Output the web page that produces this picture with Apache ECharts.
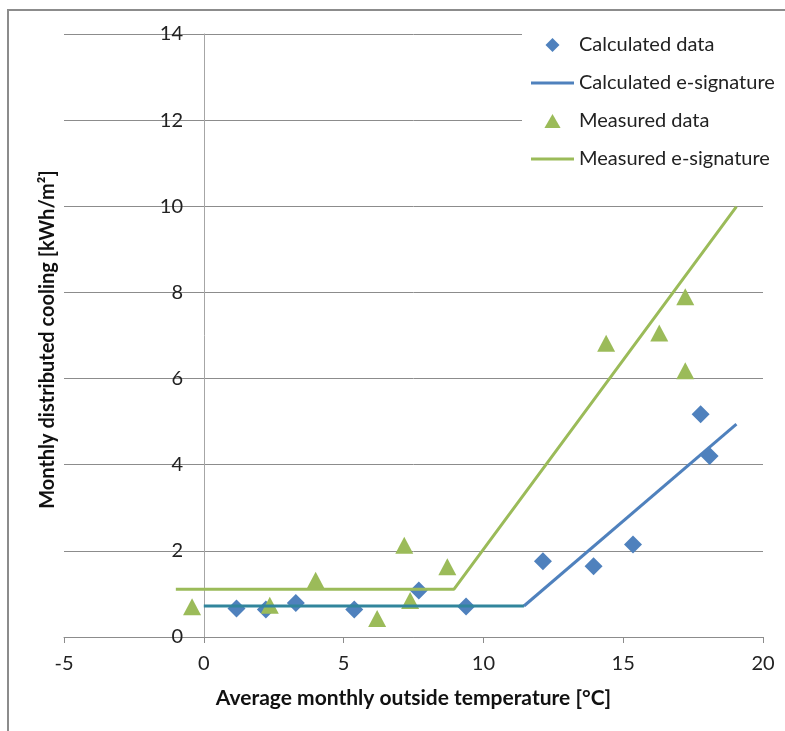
<!DOCTYPE html>
<html>
<head>
<meta charset="utf-8">
<script src="https://cdn.jsdelivr.net/npm/echarts@6/dist/echarts.min.js"></script>
<style>
  html, body { margin: 0; padding: 0; background: #fff; }
  #chart { position: absolute; left: 0; top: 0; width: 785px; height: 731px; }
  #frame { position: absolute; left: 7px; top: 9px; width: 800px; height: 760px;
           border-left: 2px solid #8c8c8c; border-top: 2px solid #8c8c8c; pointer-events: none; }
</style>
</head>
<body>
<div id="chart"></div>
<div id="frame"></div>
<script>
// average monthly outside temperature [°C] / monthly distributed cooling [kWh/m²]
const calcTemp = [1.17, 2.22, 3.29, 5.38, 7.69, 9.38, 12.13, 13.94, 15.35, 17.77, 18.09]
const calcCooling = [0.66, 0.64, 0.79, 0.64, 1.08, 0.71, 1.76, 1.64, 2.15, 5.17, 4.20]
const measTemp = [-0.42, 2.36, 4.0, 6.2, 7.17, 7.38, 8.71, 14.39, 16.29, 17.22, 17.22]
const measCooling = [0.70, 0.74, 1.32, 0.43, 2.13, 0.85, 1.63, 6.82, 7.06, 7.90, 6.18]

// e-signature break points
const calcSigFlatX = [0, 11.45]
const calcSigFlatY = [0.72, 0.72]
const calcSigSlopeX = [11.45, 19.05]
const calcSigSlopeY = [0.72, 4.94]
const measSigX = [-1, 8.95, 19.05]
const measSigY = [1.11, 1.11, 9.99]

// axis ticks
const xTicks = [-5, 0, 5, 10, 15, 20]
const yTicks = [0, 2, 4, 6, 8, 10, 12, 14]

const BLUE = '#4f81bd'
const TEAL = '#31859c'
const GREEN = '#9bbb59'
const FONT = 'Lato'

// legend icons (path icons keep their aspect)
const ICON_LINE = 'path://M0,0H43V3H0Z'
const ICON_DIAMOND = 'path://M7,0L14,7L7,14L0,7Z'
const ICON_TRIANGLE = 'path://M0,13L7.5,0L15,13Z'

const pairs = (xs, ys) => xs.map((x, i) => [x, ys[i]])

const chart = echarts.init(document.getElementById('chart'))

const option = {
  animation: false,
  textStyle: { fontFamily: FONT },
  grid: {
    left: 64,
    right: 22,
    top: 34,
    bottom: 94,
    containLabel: false,
    outerBoundsMode: 'none'
  },
  legend: {
    orient: 'vertical',
    left: 522,
    top: 29,
    padding: [6, 12, 6, 9],
    backgroundColor: '#fff',
    itemWidth: 43,
    itemHeight: 14,
    itemGap: 18,
    symbolKeepAspect: true,
    textStyle: { fontFamily: FONT, fontSize: 20, color: '#222' },
    data: [
      { name: 'Calculated data', icon: ICON_DIAMOND },
      { name: 'Calculated e-signature', icon: ICON_LINE },
      { name: 'Measured data', icon: ICON_TRIANGLE },
      { name: 'Measured e-signature', icon: ICON_LINE }
    ]
  },
  xAxis: {
    type: 'value',
    min: xTicks[0],
    max: xTicks[xTicks.length - 1],
    interval: 5,
    axisLine: { onZero: false, lineStyle: { color: '#8c8c8c', width: 1 } },
    axisTick: { show: true, length: 6, lineStyle: { color: '#8c8c8c' } },
    axisLabel: { fontSize: 20, color: '#222', margin: 17 },
    splitLine: { show: false },
    name: 'Average monthly outside temperature [°C]',
    nameLocation: 'middle',
    nameGap: 51,
    nameTextStyle: { fontFamily: FONT, fontSize: 21, fontWeight: 'bold', color: '#111' }
  },
  yAxis: {
    type: 'value',
    min: yTicks[0],
    max: yTicks[yTicks.length - 1],
    interval: 2,
    axisLine: { show: true, onZero: true, lineStyle: { color: '#a6a6a6', width: 1 } },
    axisTick: { show: false },
    // labels sit beside the axis line at x = 0, not at the grid edge
    axisLabel: { fontSize: 20, color: '#222', margin: -119 },
    splitLine: { show: true, lineStyle: { color: '#8c8c8c', width: 1 } },
    name: 'Monthly distributed cooling [kWh/m²]',
    nameLocation: 'middle',
    nameGap: 6,
    nameTextStyle: { fontFamily: FONT, fontSize: 20, fontWeight: 'bold', color: '#111', padding: [0, 8, 0, 0] }
  },
  series: [
    {
      name: 'Measured e-signature',
      type: 'line',
      data: pairs(measSigX, measSigY),
      symbol: 'none',
      lineStyle: { color: GREEN, width: 3 },
      itemStyle: { color: GREEN }
    },
    {
      name: 'Calculated e-signature',
      type: 'line',
      data: pairs(calcSigSlopeX, calcSigSlopeY),
      symbol: 'none',
      lineStyle: { color: BLUE, width: 3 },
      itemStyle: { color: BLUE }
    },
    {
      name: 'Calculated e-signature flat',
      type: 'line',
      data: pairs(calcSigFlatX, calcSigFlatY),
      symbol: 'none',
      lineStyle: { color: TEAL, width: 3 },
      itemStyle: { color: TEAL }
    },
    {
      name: 'Calculated data',
      type: 'scatter',
      data: pairs(calcTemp, calcCooling),
      symbol: 'diamond',
      symbolSize: 18,
      itemStyle: { color: BLUE, opacity: 1 }
    },
    {
      name: 'Measured data',
      type: 'scatter',
      data: pairs(measTemp, measCooling),
      symbol: 'triangle',
      symbolSize: [18, 17],
      itemStyle: { color: GREEN, opacity: 1 }
    }
  ]
}

chart.setOption(option)
</script>
</body>
</html>
